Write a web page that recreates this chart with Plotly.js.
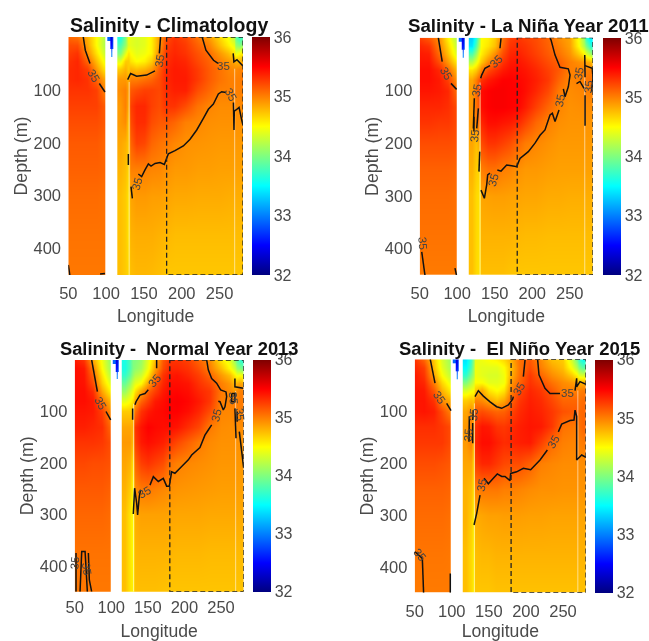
<!DOCTYPE html>
<html>
<head>
<meta charset="utf-8">
<script src="https://cdn.plot.ly/plotly-3.0.0.min.js"></script>
<style>html,body{margin:0;padding:0;background:#fff}#chart{width:649px;height:641px;filter:blur(0.6px)}</style>
</head>
<body>
<div id="chart"></div>
<script>
const n = null;
const depthGrid = [0,15,30,45,60,80,100,130,160,200,250,300,375,450];
const lonGrid = [50,62,75,87,98,99,104,105.5,107,108.5,110,119,125,129.5,131.5,140,150,160,170,180,190,205,220,235,250,262,269,271,276,281];
const gap = [n,n,n,n,n,n,n,n,n,n,n,n,n,n];
const notchA = [32.9,n,n,n,n,n,n,n,n,n,n,n,n,n];
const notchB = [32.4,32.6,n,n,n,n,n,n,n,n,n,n,n,n];
const notchC = [32.3,32.5,33.0,n,n,n,n,n,n,n,n,n,n,n];
const notchD = [32.7,32.8,n,n,n,n,n,n,n,n,n,n,n,n];

const climatology = [
[35.1,35.2,35.25,35.3,35.33,35.33,35.3,35.25,35.2,35.15,35.12,35.08,35.05,35.03],
[35.05,35.2,35.3,35.35,35.35,35.35,35.3,35.25,35.2,35.15,35.12,35.08,35.05,35.03],
[34.8,34.85,34.95,35.1,35.25,35.3,35.3,35.25,35.2,35.15,35.12,35.08,35.05,35.03],
[34.5,34.5,34.6,34.75,34.9,35.1,35.25,35.25,35.2,35.15,35.12,35.08,35.05,35.03],
[34.2,34.2,34.3,34.45,34.6,34.85,35.0,35.15,35.15,35.1,35.1,35.06,35.05,35.03],
gap,notchA,notchB,notchC,notchD,gap,
[33.6,33.8,34.0,34.4,34.7,34.9,34.95,34.9,34.9,34.85,34.8,34.75,34.75,34.75],
[34.0,34.1,34.4,34.7,34.8,34.9,35.0,35.0,34.95,34.8,34.75,34.7,34.7,34.7],
[34.5,34.4,34.6,34.7,34.7,34.8,34.85,34.8,34.7,34.7,34.65,34.6,34.6,34.65],
[34.4,34.4,34.5,34.6,34.8,35.0,35.15,35.25,35.2,35.1,35.0,34.85,34.8,34.75],
[34.35,34.35,34.4,34.5,34.75,35.0,35.2,35.35,35.33,35.25,35.0,34.9,34.82,34.78],
[34.4,34.4,34.45,34.55,34.8,35.05,35.25,35.35,35.33,35.22,35.0,34.9,34.82,34.78],
[34.55,34.55,34.55,34.7,34.9,35.1,35.25,35.25,35.2,35.1,34.98,34.88,34.82,34.77],
[34.9,34.9,35.0,35.05,35.15,35.2,35.22,35.2,35.15,35.05,34.97,34.88,34.8,34.75],
[35.2,35.25,35.3,35.32,35.35,35.35,35.33,35.3,35.15,35.02,34.93,34.86,34.78,34.72],
[35.3,35.33,35.35,35.38,35.4,35.4,35.38,35.3,35.1,34.97,34.9,34.84,34.76,34.72],
[35.22,35.27,35.3,35.35,35.38,35.4,35.38,35.2,35.0,34.93,34.9,34.84,34.76,34.72],
[35.05,35.12,35.18,35.22,35.27,35.28,35.2,35.05,34.97,34.92,34.88,34.83,34.76,34.72],
[34.9,35.0,35.08,35.12,35.15,35.15,35.1,34.98,34.94,34.91,34.88,34.83,34.76,34.72],
[34.65,34.75,34.9,35.0,35.05,35.05,35.0,34.95,34.93,34.9,34.87,34.83,34.76,34.72],
[34.45,34.55,34.75,34.9,34.98,35.0,35.0,34.95,34.93,34.9,34.87,34.82,34.76,34.72],
[34.2,34.4,34.6,34.85,34.95,35.0,35.0,34.95,34.93,34.9,34.87,34.82,34.76,34.72],
[33.9,34.1,34.4,34.8,34.95,35.0,35.0,34.95,34.93,34.9,34.87,34.82,34.76,34.72],
[33.7,34.0,34.5,34.8,34.98,35.0,35.0,34.96,34.93,34.9,34.87,34.82,34.76,34.72],
[33.8,34.1,34.6,34.85,35.0,35.05,35.0,34.96,34.93,34.9,34.87,34.82,34.76,34.72]
];
const laNina = [
[35.25,35.35,35.4,35.42,35.45,35.45,35.42,35.35,35.3,35.2,35.12,35.08,35.05,35.02],
[35.15,35.3,35.38,35.42,35.45,35.45,35.42,35.35,35.3,35.2,35.12,35.08,35.05,35.02],
[34.95,35.0,35.08,35.2,35.35,35.4,35.4,35.35,35.28,35.2,35.12,35.08,35.05,35.02],
[34.55,34.65,34.75,34.9,35.1,35.25,35.35,35.32,35.28,35.2,35.12,35.08,35.05,35.02],
[34.2,34.3,34.4,34.6,34.8,34.95,35.1,35.22,35.22,35.18,35.1,35.06,35.05,35.02],
gap,notchA,notchB,notchC,notchD,gap,
[33.3,33.4,33.8,34.2,34.6,34.85,34.9,34.9,34.9,34.85,34.8,34.75,34.75,34.75],
[33.6,33.8,34.1,34.4,34.7,35.0,35.05,35.05,35.0,34.75,34.7,34.65,34.65,34.65],
[34.2,34.3,34.5,34.65,34.9,35.2,35.25,35.2,35.1,34.85,34.65,34.6,34.6,34.6],
[34.5,34.5,34.55,34.7,35.0,35.3,35.45,35.45,35.35,35.2,35.0,34.85,34.8,34.75],
[34.55,34.6,34.75,34.95,35.2,35.4,35.5,35.5,35.45,35.3,35.05,34.87,34.8,34.75],
[34.7,34.75,34.95,35.1,35.3,35.45,35.52,35.52,35.45,35.3,35.05,34.88,34.8,34.75],
[35.05,35.1,35.2,35.3,35.4,35.5,35.52,35.52,35.42,35.25,35.0,34.88,34.8,34.75],
[35.25,35.3,35.35,35.4,35.45,35.5,35.5,35.5,35.4,35.2,34.98,34.87,34.8,34.73],
[35.3,35.33,35.38,35.42,35.45,35.48,35.5,35.48,35.35,35.1,34.93,34.86,34.78,34.72],
[35.25,35.3,35.33,35.38,35.42,35.45,35.45,35.4,35.25,35.02,34.9,34.85,34.77,34.72],
[35.2,35.22,35.25,35.3,35.35,35.38,35.35,35.25,35.1,34.97,34.9,34.85,34.77,34.72],
[35.1,35.12,35.15,35.2,35.25,35.28,35.22,35.1,35.0,34.93,34.88,34.83,34.76,34.72],
[34.95,35.0,35.05,35.12,35.15,35.1,35.02,34.98,34.94,34.9,34.87,34.83,34.76,34.72],
[34.85,34.87,34.92,35.0,35.0,34.97,34.95,34.93,34.92,34.9,34.87,34.82,34.76,34.72],
[34.45,34.5,34.7,34.93,35.0,35.0,34.97,34.94,34.92,34.9,34.87,34.82,34.76,34.72],
[34.1,34.2,34.55,34.9,34.98,35.0,34.98,34.95,34.92,34.9,34.87,34.82,34.76,34.72],
[33.7,34.0,34.4,34.85,35.0,35.03,35.0,34.95,34.92,34.9,34.87,34.82,34.76,34.72],
[33.45,33.7,34.2,34.8,35.0,35.05,35.0,34.95,34.92,34.9,34.87,34.82,34.76,34.72],
[33.4,33.6,34.0,34.7,35.0,35.05,35.0,34.95,34.92,34.9,34.87,34.82,34.76,34.72]
];
const normal = [
[35.4,35.45,35.45,35.45,35.45,35.45,35.42,35.38,35.3,35.22,35.15,35.1,35.05,35.03],
[35.3,35.4,35.42,35.43,35.45,35.45,35.42,35.38,35.3,35.22,35.15,35.1,35.05,35.03],
[34.85,35.0,35.1,35.2,35.32,35.4,35.4,35.35,35.3,35.2,35.15,35.1,35.05,35.03],
[34.45,34.5,34.6,34.7,34.85,35.05,35.25,35.32,35.28,35.2,35.15,35.1,35.05,35.03],
[34.1,34.15,34.25,34.4,34.55,34.8,34.95,35.1,35.2,35.18,35.12,35.08,35.05,35.03],
gap,notchA,notchB,notchC,notchD,gap,
[33.6,33.6,33.7,33.9,34.1,34.4,34.7,34.85,34.9,34.85,34.8,34.75,34.75,34.75],
[33.8,33.8,33.9,34.1,34.3,34.5,34.7,34.85,34.9,34.8,34.7,34.6,34.6,34.6],
[34.0,34.0,34.1,34.3,34.45,34.6,34.75,34.8,34.75,34.6,34.5,34.5,34.5,34.55],
[34.0,34.05,34.2,34.4,34.6,34.85,35.05,35.3,35.25,35.1,34.95,34.82,34.78,34.74],
[34.1,34.15,34.3,34.5,34.85,35.1,35.3,35.42,35.4,35.25,35.02,34.87,34.8,34.75],
[34.4,34.45,34.6,34.85,35.1,35.25,35.4,35.5,35.45,35.3,35.03,34.87,34.8,34.75],
[34.75,34.85,35.0,35.15,35.25,35.4,35.45,35.47,35.42,35.25,35.0,34.87,34.8,34.75],
[35.15,35.2,35.3,35.35,35.4,35.45,35.47,35.45,35.38,35.2,34.97,34.87,34.8,34.74],
[35.3,35.35,35.4,35.45,35.47,35.5,35.5,35.45,35.3,35.05,34.94,34.86,34.79,34.73],
[35.3,35.35,35.42,35.45,35.48,35.52,35.5,35.42,35.22,35.0,34.92,34.85,34.78,34.73],
[35.25,35.3,35.35,35.42,35.45,35.48,35.45,35.32,35.12,34.97,34.91,34.85,34.78,34.73],
[35.1,35.18,35.25,35.3,35.35,35.4,35.35,35.22,35.02,34.95,34.9,34.85,34.78,34.73],
[34.95,35.0,35.1,35.2,35.28,35.28,35.2,35.02,34.96,34.93,34.89,34.84,34.77,34.73],
[34.6,34.75,34.9,35.0,35.03,35.0,34.98,34.95,34.93,34.91,34.88,34.84,34.77,34.73],
[34.4,34.5,34.75,34.9,34.95,35.0,34.97,34.94,34.93,34.91,34.88,34.84,34.77,34.73],
[34.1,34.3,34.55,34.75,34.9,35.0,35.0,34.95,34.93,34.91,34.88,34.84,34.77,34.73],
[33.85,34.1,34.45,34.8,34.95,35.0,35.0,34.95,34.93,34.91,34.88,34.84,34.77,34.73],
[33.7,34.0,34.5,34.85,35.0,35.02,35.0,34.95,34.93,34.91,34.88,34.84,34.77,34.73],
[33.6,33.9,34.4,34.8,35.0,35.02,35.0,34.95,34.93,34.91,34.88,34.84,34.77,34.73]
];
const elNino = [
[35.3,35.35,35.4,35.4,35.42,35.42,35.4,35.32,35.28,35.2,35.12,35.08,35.04,35.02],
[35.1,35.25,35.3,35.35,35.4,35.42,35.42,35.32,35.28,35.2,35.12,35.08,35.04,35.02],
[34.7,34.75,34.85,35.0,35.15,35.3,35.38,35.32,35.28,35.2,35.12,35.08,35.04,35.02],
[34.35,34.4,34.5,34.65,34.8,34.95,35.2,35.28,35.28,35.18,35.12,35.08,35.04,35.02],
[34.1,34.15,34.25,34.4,34.55,34.8,34.97,35.2,35.2,35.15,35.1,35.06,35.03,35.02],
gap,notchA,notchB,notchC,notchD,gap,
[33.4,33.5,33.7,34.0,34.35,34.7,34.85,34.9,34.9,34.85,34.8,34.8,34.75,34.75],
[33.7,33.8,34.0,34.2,34.45,34.75,34.95,35.0,35.0,34.85,34.75,34.7,34.65,34.65],
[34.1,34.15,34.2,34.35,34.5,34.7,34.85,34.85,34.75,34.65,34.6,34.55,34.55,34.55],
[34.4,34.45,34.45,34.5,34.7,35.0,35.15,35.3,35.35,35.25,35.0,34.82,34.75,34.72],
[34.45,34.4,34.4,34.5,34.85,34.95,35.2,35.42,35.45,35.35,35.03,34.85,34.78,34.72],
[34.5,34.4,34.35,34.4,34.6,34.85,35.15,35.4,35.45,35.35,35.03,34.87,34.78,34.72],
[34.55,34.4,34.35,34.4,34.5,34.75,35.1,35.3,35.38,35.28,35.03,34.87,34.8,34.74],
[34.65,34.5,34.45,34.45,34.6,34.85,35.12,35.28,35.33,35.22,35.0,34.88,34.8,34.74],
[34.8,34.75,34.8,34.9,34.98,35.1,35.22,35.33,35.35,35.2,35.0,34.88,34.8,34.74],
[35.05,35.03,35.05,35.1,35.2,35.28,35.33,35.38,35.38,35.2,34.98,34.88,34.8,34.74],
[35.15,35.2,35.28,35.3,35.35,35.38,35.4,35.42,35.4,35.12,34.95,34.87,34.8,34.74],
[34.95,35.0,35.1,35.2,35.28,35.33,35.36,35.4,35.25,35.0,34.93,34.87,34.8,34.74],
[34.75,34.85,34.95,35.05,35.15,35.22,35.28,35.28,35.08,34.97,34.93,34.86,34.8,34.74],
[34.7,34.75,34.85,34.95,35.0,35.1,35.18,35.05,35.0,34.95,34.92,34.86,34.8,34.74],
[34.3,34.45,34.7,34.9,35.0,35.1,35.15,35.03,34.98,34.95,34.92,34.86,34.8,34.74],
[33.95,34.2,34.55,34.85,35.0,35.1,35.15,35.0,34.98,34.95,34.92,34.86,34.8,34.74],
[33.7,34.0,34.4,34.8,35.0,35.05,35.08,35.05,35.0,34.95,34.92,34.86,34.8,34.74],
[33.55,33.85,34.35,34.8,35.02,35.08,35.1,35.1,35.02,34.95,34.92,34.86,34.8,34.74],
[33.6,33.9,34.45,34.85,35.02,35.08,35.1,35.1,35.02,34.95,34.92,34.86,34.8,34.74]
];

// 35 isohaline lines, null breaks the line
const climLineLon = [69.8,72.5,78.7,n,91,98.5,n,128.5,132.4,140.4,153.6,164.6,n,170.4,172,n,227,232,242,248,n,268,269,273,281,n,134.7,132.9,n,142.6,147,151.4,155.9,159.4,164.7,171.3,177,180,182.3,191.1,202.1,211,219.8,228.6,235.2,241.8,248.4,252.8,258.6,n,268.3,269.1,269.5,271.8,275.8,279.3,281,n,129.4,129.4,n,50,52,n,92,98.5];
const climLineDep = [0,25,50,n,88,104,n,80.5,69,74,72,64,n,31,0,n,0,25,44,50,n,31,47,43,55,n,305,283,n,259,264,251.4,240,244,239,237.5,241,229.4,221,215,206,193.4,175.8,153.8,136.7,126.7,107.8,103.4,105,n,124,176,140,138,133,157,167,n,221,242,n,431,450,n,448,447];
const ninaLineLon = [74.8,80,n,91.7,99.2,n,158.4,157,n,143.7,137,132.6,131.3,n,122.8,121.5,n,128.2,126,n,122.3,122.3,n,130,129,n,131.7,136.2,139.3,140.6,143.7,n,153.5,158.4,165.9,172.6,179.3,183.7,194.8,203.7,210.4,217,223.7,226.8,230.4,235.7,n,241.5,243.7,248.1,250.4,248.1,237,230.4,225,223.7,n,270,270.4,n,259,263.7,269,n,270.4,270.4,n,270.4,280,281,279,n,52.7,57,n,97,99];
const ninaLineDep = [0,45.5,n,86.6,98,n,1,20,n,53,58,71,77,n,115,172,n,134,172,n,150,178,n,216,254,n,289,304.6,279,260,257,n,251,253,241.4,243,244.5,229,216,200,185,175,146.6,143.4,159,137,n,97,112,93,71,59,56,33,4,1,n,33,75,n,87,83,96,n,109,167,n,53,58,77,102,n,406,450,n,437,450];
const normLineLon = [73.2,81,n,92.8,99.2,n,162,162,n,150.6,146.1,139.2,133.8,132.4,n,129.2,129.2,n,230.4,232.6,237.2,244,249.5,256.8,257.7,255.4,253.1,248.6,246.3,n,130.1,131.9,134.7,136,138.3,140.1,n,152.9,157.5,164.3,171.1,175.7,179.3,182.5,187,196.2,205.3,209.9,221.2,228,232.6,237.2,n,269,269,280.5,n,264.6,264.6,269,269,264.6,n,269,270.5,n,272,272,n,275,281,n,51.8,51.8,n,57.3,59.6,64.2,67.3,n,68.7,70,73.2];
const normLineDep = [0,61.5,n,100,116.5,n,0,16,n,58,65,68,81,87,n,94,116,n,0,19,36,45,58,62,71,91,97,81,80,n,299,249,278,301,265,252,n,243,226.6,236,230,245,245,217,220,207,194,184.5,170,146,136,126,n,36,52,55,n,65,81,81,65,65,n,94,152,n,100,120,n,139,210,n,375,450,n,450,372,372,450,n,375,427,450];
const ninoLineLon = [71,77.4,n,93.1,99,n,131.3,135.8,142.6,151.6,160.5,167.3,176.3,182.1,183,n,196.5,198.8,n,215.8,217.6,225.7,232.5,245.9,n,266.2,268.4,268.4,272.9,281,n,130,133.6,138.1,n,143.5,149.3,156,161.4,167.3,171.8,178.5,179.4,187.5,196.5,206.4,219,228.9,n,243.7,248.2,259.4,264.8,266.2,268.4,268.4,275.2,281,n,129,128.2,n,123.7,123.2,n,128.2,128.2,n,60.3,62,n,50.5,60.3,n,98,98];
const ninoLineDep = [0,46,n,85,99,n,72,60.5,71,82,91.4,94.5,88,77,72,n,33.5,1,n,1,30,56,66,66,n,60.5,36.7,53,43,48,n,319.5,297,262,n,229.5,240,229.5,221,226,226,234,220,217,210,213,194,175,n,140,125,118,117,98,110,194,184.5,189,n,98,117,n,110,159,n,123,162,n,384,450,n,371,384,n,413,450];

// pale seams in the field
const seamLon = [130.5,130.5,n,270,270];
const seamDep = [85,450,n,60,450];

// contour label text positions and rotations
const labelText = "35";
const climLabels = {lon:[83.5,170.5,255,265,140.4],dep:[74,45,55,110,277],ang:[60,-80,0,60,-75]};
const ninaLabels = {lon:[86,152.6,237,261.5,274.8,126,123.7,148.2,53.5],dep:[68,45,118,68,93,99,185,270,390],ang:[60,-45,-80,-80,-85,-80,-85,-75,85]};
const normLabels = {lon:[85,158.8,244,266.8,275.9,146,50.5,67],dep:[84,40,107,74,107,256,395,405],ang:[60,-50,-75,85,85,-30,-85,80]};
const ninoLabels = {lon:[84,191,255.8,140.3,237,129,122.3,57],dep:[74,58,65,242,159,107,146,378],ang:[55,-60,0,-80,-60,-85,-85,50]};

const lonTicks = [50,100,150,200,250];
const depthTicks = [100,200,300,400];
const salinityTicks = [32,33,34,35,36];
const boxLon = [180,281];
const boxDepth = [0,450];
const W = 649, H = 641;

const jet = [[0,'#00007f'],[0.125,'#0000ff'],[0.375,'#00ffff'],[0.625,'#ffff00'],[0.875,'#ff0000'],[1,'#7f0000']];
const ink = '#4a4a4a';
const fontFam = 'Liberation Sans, Arial, sans-serif';

const panels = [
 {t:'Salinity - Climatology',tx:168.5,ty:25,tf:19.5,data:climatology,llon:climLineLon,ldep:climLineDep,lab:climLabels,
  x0:68.3,x1:243,y0:37,y1:275,cb0:252,tl:3,so:8},
 {t:'Salinity - La Niña Year 2011',tx:528,ty:26,tf:18.7,data:laNina,llon:ninaLineLon,ldep:ninaLineDep,lab:ninaLabels,
  x0:419.7,x1:593,y0:37.7,y1:275,cb0:602.7,tl:3,so:8},
 {t:'Salinity -  Normal Year 2013',tx:178.5,ty:348,tf:18.3,data:normal,llon:normLineLon,ldep:normLineDep,lab:normLabels,
  x0:74.7,x1:243.7,y0:360,y1:591.7,cb0:253,tl:0,so:14},
 {t:'Salinity -  El Niño Year 2015',tx:519.5,ty:348,tf:18.5,data:elNino,llon:ninoLineLon,ldep:ninoLineDep,lab:ninoLabels,
  x0:414.7,x1:586,y0:359.3,y1:592.7,cb0:595,tl:3,so:14}
];

const traces = [], layout = {
  width:W,height:H,margin:{l:0,r:0,t:0,b:0,pad:0},paper_bgcolor:'#fff',plot_bgcolor:'#fff',
  showlegend:false,annotations:[],shapes:[],font:{family:fontFam,color:ink}
};

panels.forEach((p,i)=>{
  const k = i===0?'':String(i+1);
  const z = depthGrid.map((_,r)=>p.data.map(col=>col[r]));
  traces.push({type:'heatmap',x:lonGrid,y:depthGrid,z:z,zsmooth:'best',zmin:32,zmax:36,colorscale:jet,xaxis:'x'+k,yaxis:'y'+k,hoverinfo:'skip',
    colorbar:{x:p.cb0/W,xanchor:'left',y:1-p.y1/H,yanchor:'bottom',len:(p.y1-p.y0)/H,thickness:17.5,xpad:0,ypad:0,outlinewidth:0,
      tickmode:'array',tickvals:salinityTicks,ticktext:salinityTicks.map(String),ticks:'',tickfont:{size:16,color:ink,family:fontFam}}});
  traces.push({type:'scatter',mode:'lines',x:seamLon,y:seamDep,xaxis:'x'+k,yaxis:'y'+k,line:{color:'rgba(255,255,255,0.55)',width:1},hoverinfo:'skip'});
  traces.push({type:'scatter',mode:'lines',x:p.llon,y:p.ldep,xaxis:'x'+k,yaxis:'y'+k,line:{color:'#111',width:1.5,simplify:false},hoverinfo:'skip',connectgaps:false});
  layout['xaxis'+k] = {domain:[p.x0/W,p.x1/W],range:[50,281],anchor:'y'+k,tickmode:'array',tickvals:lonTicks,ticks:'outside',ticklen:p.tl,tickcolor:'rgba(0,0,0,0)',showgrid:false,zeroline:false,showline:false,
    tickfont:{size:16.5,color:ink},title:{text:'Longitude',font:{size:17.6,color:ink},standoff:p.so}};
  layout['yaxis'+k] = {domain:[1-p.y1/H,1-p.y0/H],range:[450,0],anchor:'x'+k,tickmode:'array',tickvals:depthTicks,ticks:'outside',ticklen:3,tickcolor:'rgba(0,0,0,0)',showgrid:false,zeroline:false,showline:false,
    tickfont:{size:16.5,color:ink},title:{text:'Depth (m)',font:{size:17.8,color:ink},standoff:1}};
  layout.shapes.push({type:'rect',xref:'x'+k,yref:'y'+k,x0:boxLon[0],x1:boxLon[1],y0:boxDepth[0],y1:boxDepth[1],line:{color:'#222',width:1.3,dash:'5px,3px'},layer:'above'});
  layout.annotations.push({xref:'paper',yref:'paper',x:p.tx/W,y:1-p.ty/H,xanchor:'center',yanchor:'middle',showarrow:false,text:'<b>'+p.t+'</b>',font:{size:p.tf,color:'#111',family:fontFam}});
  p.lab.lon.forEach((lo,j)=>{
    layout.annotations.push({xref:'x'+k,yref:'y'+k,x:lo,y:p.lab.dep[j],text:labelText,textangle:p.lab.ang[j],showarrow:false,font:{size:11.5,color:'#444'},xanchor:'center',yanchor:'middle'});
  });
});

Plotly.newPlot('chart',traces,layout,{displayModeBar:false,staticPlot:true});
</script>
</body>
</html>
